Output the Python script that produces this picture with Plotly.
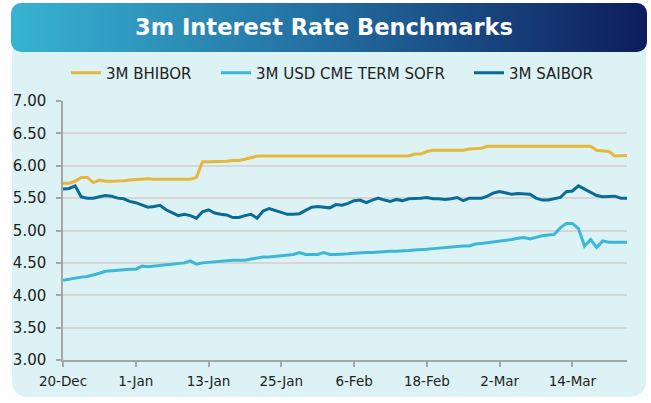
import base64
import pandas as pd
import plotly.graph_objects as go

# ---------------- data ----------------
start_date = "2024-12-20"
end_date = "2025-03-23"
dates = pd.date_range(start_date, end_date, freq="D")

bhibor = [
    5.73, 5.73, 5.76, 5.82, 5.82, 5.74, 5.78, 5.76, 5.76, 5.76,
    5.77, 5.78, 5.79, 5.80, 5.80, 5.79, 5.79, 5.79, 5.79, 5.79,
    5.79, 5.79, 5.82, 6.06, 6.06, 6.06, 6.06, 6.07, 6.08, 6.08,
    6.10, 6.12, 6.15, 6.15, 6.15, 6.15, 6.15, 6.15, 6.15, 6.15,
    6.15, 6.15, 6.15, 6.15, 6.15, 6.15, 6.15, 6.15, 6.15, 6.15,
    6.15, 6.15, 6.15, 6.15, 6.15, 6.15, 6.15, 6.15, 6.18, 6.18,
    6.22, 6.24, 6.24, 6.24, 6.24, 6.24, 6.24, 6.26, 6.27, 6.27,
    6.30, 6.30, 6.30, 6.30, 6.30, 6.30, 6.30, 6.30, 6.30, 6.30,
    6.30, 6.30, 6.30, 6.30, 6.30, 6.30, 6.30, 6.30, 6.24, 6.23,
    6.22, 6.15, 6.16, 6.16,
]

sofr = [
    4.23, 4.25, 4.26, 4.28, 4.29, 4.31, 4.34, 4.37, 4.38, 4.39,
    4.40, 4.40, 4.40, 4.45, 4.44, 4.45, 4.46, 4.47, 4.48, 4.49,
    4.50, 4.53, 4.48, 4.50, 4.51, 4.51, 4.52, 4.53, 4.54, 4.54,
    4.54, 4.56, 4.58, 4.59, 4.59, 4.60, 4.60, 4.61, 4.63, 4.66,
    4.63, 4.63, 4.63, 4.66, 4.63, 4.63, 4.63, 4.64, 4.65, 4.66,
    4.66, 4.66, 4.67, 4.67, 4.68, 4.68, 4.68, 4.69, 4.70, 4.70,
    4.71, 4.72, 4.73, 4.74, 4.74, 4.75, 4.76, 4.76, 4.79, 4.80,
    4.81, 4.82, 4.83, 4.85, 4.86, 4.88, 4.89, 4.87, 4.90, 4.92,
    4.93, 4.94, 5.04, 5.11, 5.11, 5.03, 4.76, 4.86, 4.74, 4.84,
    4.82, 4.82, 4.82, 4.82,
]

saibor = [
    5.64, 5.65, 5.69, 5.52, 5.50, 5.50, 5.52, 5.54, 5.53, 5.50,
    5.49, 5.45, 5.43, 5.40, 5.36, 5.37, 5.39, 5.32, 5.28, 5.23,
    5.25, 5.23, 5.19, 5.29, 5.32, 5.27, 5.25, 5.24, 5.20, 5.20,
    5.23, 5.25, 5.19, 5.30, 5.34, 5.31, 5.27, 5.25, 5.25, 5.26,
    5.31, 5.36, 5.37, 5.36, 5.35, 5.40, 5.39, 5.42, 5.46, 5.47,
    5.43, 5.47, 5.50, 5.47, 5.45, 5.48, 5.46, 5.49, 5.49, 5.50,
    5.51, 5.49, 5.49, 5.48, 5.49, 5.51, 5.46, 5.50, 5.50, 5.50,
    5.53, 5.58, 5.60, 5.58, 5.56, 5.57, 5.57, 5.56, 5.50, 5.47,
    5.47, 5.49, 5.51, 5.60, 5.61, 5.69, 5.64, 5.58, 5.54, 5.52,
    5.52, 5.53, 5.50, 5.50,
]

series_names = ["3M BHIBOR", "3M USD CME TERM SOFR", "3M SAIBOR"]
series_colors = ["#E5B73B", "#3BB8D8", "#0A6B96"]

tick_dates = ["2024-12-20", "2025-01-01", "2025-01-13", "2025-01-25",
              "2025-02-06", "2025-02-18", "2025-03-02", "2025-03-14"]
tick_labels = ["20-Dec", "1-Jan", "13-Jan", "25-Jan",
               "6-Feb", "18-Feb", "2-Mar", "14-Mar"]
y_ticks = [3.0, 3.5, 4.0, 4.5, 5.0, 5.5, 6.0, 6.5, 7.0]

title_text = "3m Interest Rate Benchmarks"

# ---------------- layout geometry ----------------
W, H = 651, 403
ML, MR, MT, MB = 63, 24, 101, 43
PW, PH = W - ML - MR, H - MT - MB


def px_to_paper(x, y):
    return (x - ML) / PW, (H - MB - y) / PH


def svg_uri(svg):
    return "data:image/svg+xml;base64," + base64.b64encode(svg.encode()).decode()


# panel (light cyan rounded box)
pan_x0, pan_y0, pan_x1, pan_y1 = 12, 40, 646, 397
pw, ph = pan_x1 - pan_x0, pan_y1 - pan_y0
panel_svg = (f'<svg xmlns="http://www.w3.org/2000/svg" width="{pw}" height="{ph}" '
             f'viewBox="0 0 {pw} {ph}"><rect x="0" y="0" width="{pw}" height="{ph}" '
             f'rx="15" ry="15" fill="#DDF2F4"/></svg>')

# banner (gradient rounded box)
ban_x0, ban_y0, ban_x1, ban_y1 = 11, 3, 647, 52
bw, bh = ban_x1 - ban_x0, ban_y1 - ban_y0
banner_svg = (f'<svg xmlns="http://www.w3.org/2000/svg" width="{bw}" height="{bh}" '
              f'viewBox="0 0 {bw} {bh}"><defs><linearGradient id="g" x1="0" y1="0" x2="1" y2="0">'
              f'<stop offset="0" stop-color="#38B4D2"/><stop offset="0.5" stop-color="#226C9F"/>'
              f'<stop offset="1" stop-color="#0E1C5C"/></linearGradient></defs>'
              f'<rect x="0" y="0" width="{bw}" height="{bh}" rx="10" ry="10" fill="url(#g)"/></svg>')

px0, py0 = px_to_paper(pan_x0, pan_y0)
bx0, by0 = px_to_paper(ban_x0, ban_y0)

images = [
    dict(source=svg_uri(panel_svg), xref="paper", yref="paper", x=px0, y=py0,
         sizex=pw / PW, sizey=ph / PH, xanchor="left", yanchor="top",
         sizing="stretch", layer="below"),
    dict(source=svg_uri(banner_svg), xref="paper", yref="paper", x=bx0, y=by0,
         sizex=bw / PW, sizey=bh / PH, xanchor="left", yanchor="top",
         sizing="stretch", layer="below"),
]

# ---------------- figure ----------------
FONT = "DejaVu Sans"
legend_ids = ["legend", "legend2", "legend3"]
legend_px = [66, 216, 469]
legend_y = px_to_paper(0, 73)[1]

fig = go.Figure()
for name, vals, col, lid in zip(series_names, [bhibor, sofr, saibor], series_colors, legend_ids):
    fig.add_trace(go.Scatter(x=dates, y=vals, mode="lines", name=name, legend=lid,
                             showlegend=True, line=dict(color=col, width=3)))

legend_style = {}
for lid, lx in zip(legend_ids, legend_px):
    legend_style[lid] = dict(orientation="h", x=px_to_paper(lx, 0)[0], xanchor="left",
                             y=legend_y, yanchor="middle", bgcolor="rgba(0,0,0,0)",
                             font=dict(family=FONT, size=15, color="#222222"),
                             itemwidth=30, visible=True)

fig.update_layout(
    width=W, height=H,
    showlegend=True,
    margin=dict(l=ML, r=MR, t=MT, b=MB, pad=0),
    paper_bgcolor="white",
    plot_bgcolor="rgba(0,0,0,0)",
    font=dict(family=FONT, size=13, color="#222222"),
    images=images,
    title=dict(text=f"<b>{title_text}</b>", x=324 / W, xanchor="center",
               y=1 - 27 / H, yanchor="middle",
               font=dict(family=FONT, size=22.5, color="white")),
    **legend_style,
    xaxis=dict(range=[start_date, end_date], tickvals=tick_dates, ticktext=tick_labels,
               showgrid=False, showline=True, linecolor="#A6A6A6", linewidth=1.5,
               ticks="outside", ticklen=5, tickcolor="#A6A6A6", tickwidth=1.5,
               ticklabelstandoff=3,
               tickfont=dict(size=13.5), zeroline=False, fixedrange=True),
    yaxis=dict(range=[3, 7], tickvals=y_ticks, tickformat=".2f",
               showgrid=True, gridcolor="#D6D6D6", gridwidth=2,
               showline=True, linecolor="#A6A6A6", linewidth=1.5,
               ticks="outside", ticklen=5, tickcolor="#A6A6A6", tickwidth=1.5,
               ticklabelstandoff=7,
               tickfont=dict(size=15), zeroline=False, fixedrange=True),
)

fig.write_html("out.html")
